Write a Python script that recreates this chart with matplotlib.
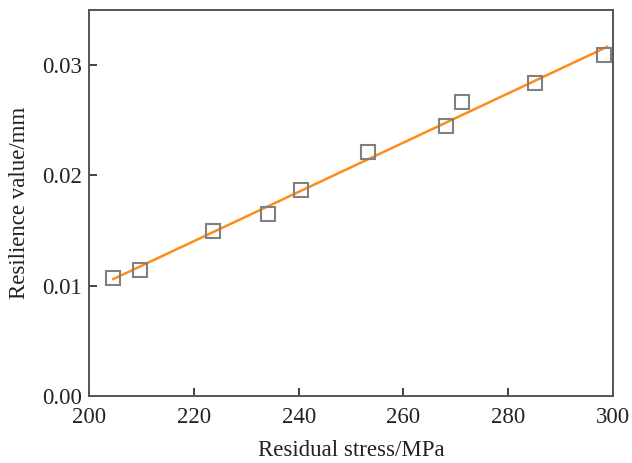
import numpy as np
import matplotlib.pyplot as plt

plt.rcParams["font.family"] = ["Liberation Serif", "DejaVu Serif"]

stress = [204.6, 209.7, 223.6, 234.2, 240.5, 253.2, 268.1, 271.2, 285.1, 298.3]
resilience = [0.0107, 0.0114, 0.0150, 0.0165, 0.0187, 0.0221, 0.0245, 0.0267, 0.0284, 0.0309]

x_ticks = [200, 220, 240, 260, 280, 300]
y_ticks = [0.00, 0.01, 0.02, 0.03]

fig = plt.figure(figsize=(6.32, 4.63), dpi=100)
ax = fig.add_axes([0.141, 0.145, 0.829, 0.833])

# linear fit
k, b = np.polyfit(stress, resilience, 1)
xf = np.array([min(stress), max(stress) + 0.6])
ax.plot(xf, k * xf + b, color="#ff8c1a", linewidth=1.8, zorder=2)

ax.plot(stress, resilience, linestyle="none", marker="s", markersize=10,
        markerfacecolor="none", markeredgecolor="#808080", markeredgewidth=1.5, zorder=3)

ax.set_xlim(200, 300)
ax.set_ylim(0, 0.035)
ax.set_xticks(x_ticks)
ax.set_yticks(y_ticks)
ax.set_yticklabels([f"{v:.2f}" for v in y_ticks])
ax.tick_params(direction="in", length=6, width=1.2, labelsize=16.5, colors="#222222")
ax.tick_params(axis="y", pad=5)
ax.tick_params(axis="x", pad=8)

for s in ax.spines.values():
    s.set_color("#555555")
    s.set_linewidth(1.4)

ax.set_xlabel("Residual stress/MPa", fontsize=16.5, color="#222222", labelpad=9)
ax.set_ylabel("Resilience value/mm", fontsize=16.5, color="#222222", labelpad=9)

fig.savefig("out.png", dpi=100)
